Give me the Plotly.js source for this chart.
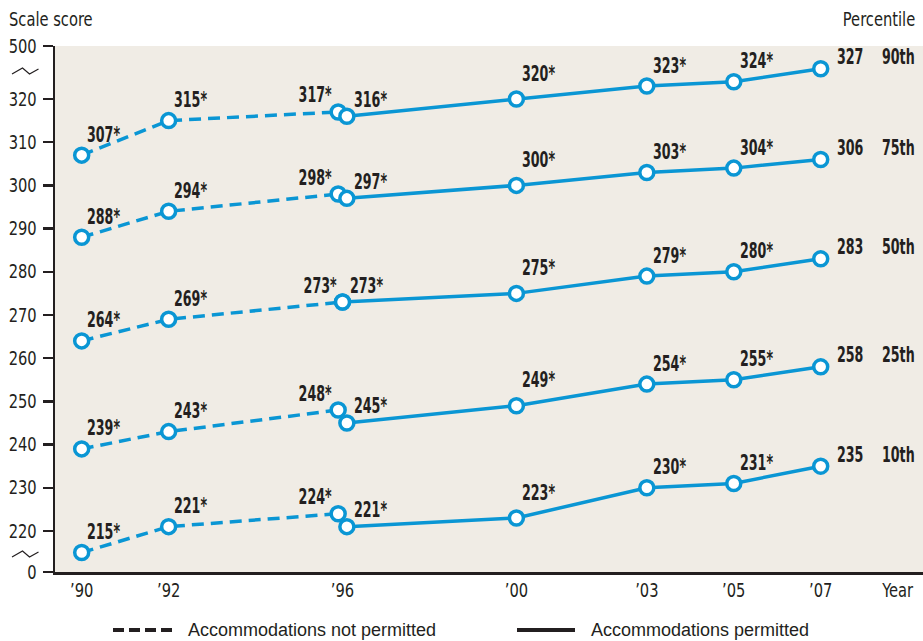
<!DOCTYPE html>
<html>
<head>
<meta charset="utf-8">
<script src="https://cdn.plot.ly/plotly-3.0.1.min.js"></script>
<style>html,body{margin:0;padding:0;background:#fff;}#chart{width:923px;height:641px;}</style>
</head>
<body>
<div id="chart"></div>
<script>
// ---- Data ----
const years = [1990, 1992, 1996, 2000, 2003, 2005, 2007];
const yearTickLabels = ["\u201990", "\u201992", "\u201996", "\u201900", "\u201903", "\u201905", "\u201907"];
const notPermittedYears = [1990, 1992, 1996];
const permittedYears = [1996, 2000, 2003, 2005, 2007];
const percentiles = ["90th", "75th", "50th", "25th", "10th"];

const p90NotPermitted = [307, 315, 317];
const p90Permitted    = [316, 320, 323, 324, 327];
const p75NotPermitted = [288, 294, 298];
const p75Permitted    = [297, 300, 303, 304, 306];
const p50NotPermitted = [264, 269, 273];
const p50Permitted    = [273, 275, 279, 280, 283];
const p25NotPermitted = [239, 243, 248];
const p25Permitted    = [245, 249, 254, 255, 258];
const p10NotPermitted = [215, 221, 224];
const p10Permitted    = [221, 223, 230, 231, 235];

// significantly different from 2007 (*)
const sigNotPermitted = [true, true, true];
const sigPermitted    = [true, true, true, true, false];

const yTickVals  = [220, 230, 240, 250, 260, 270, 280, 290, 300, 310, 320];
const yBreakLow = 0, yBreakHigh = 500;

const notPermittedSeries = [p90NotPermitted, p75NotPermitted, p50NotPermitted, p25NotPermitted, p10NotPermitted];
const permittedSeries    = [p90Permitted, p75Permitted, p50Permitted, p25Permitted, p10Permitted];

// ---- Styling ----
const BLUE = '#0a96d4';
const INK = '#231f20';
const NARROW = '"DejaVu Sans Condensed", "DejaVu Sans", sans-serif';
const W = 923, H = 641;
const M = {l: 55, r: 0, t: 46, b: 69};
const YMIN = 210.5, YMAX = 332.27;
const XMIN = 1989.386, XMAX = 2009.353;
const BOLD_SQUEEZE = 0.64, REG_SQUEEZE = 0.86;
function pxX(px) { return (px - M.l) / (W - M.l - M.r); }
function pxY(py) { return (H - M.b - py) / (H - M.t - M.b); }

const traces = [];
const annotations = [];
const annSqueeze = [];
function label(x, y, text, xanchor, xshift, yshift) {
  annotations.push({x: x, y: y, xref: 'x', yref: 'y', text: text, showarrow: false,
    xanchor: xanchor, yanchor: 'middle', xshift: xshift, yshift: yshift,
    font: {family: NARROW, size: 22, color: INK, weight: 'bold'}});
  annSqueeze.push(BOLD_SQUEEZE);
}

percentiles.forEach((pct, i) => {
  const np = notPermittedSeries[i], p = permittedSeries[i];
  const off = (np[np.length - 1] !== p[0]) ? 0.1 : 0;
  const npX = notPermittedYears.map(y => y === 1996 ? y - off : y);
  const pX = permittedYears.map(y => y === 1996 ? y + off : y);
  const marker = {symbol: 'circle', size: 14, color: '#ffffff', line: {color: BLUE, width: 3.5}};
  traces.push({x: npX, y: np, type: 'scatter', mode: 'lines+markers', name: 'Accommodations not permitted',
    line: {color: BLUE, width: 3.5, dash: '12px,7px'}, marker: marker, cliponaxis: false, hoverinfo: 'skip', showlegend: false});
  traces.push({x: pX, y: p, type: 'scatter', mode: 'lines+markers', name: 'Accommodations permitted',
    line: {color: BLUE, width: 3.5}, marker: marker, cliponaxis: false, hoverinfo: 'skip', showlegend: false});

  np.forEach((v, j) => {
    const t = v + (sigNotPermitted[j] ? '*' : '');
    if (notPermittedYears[j] === 1996) label(npX[j], v, t, 'right', -4, 17);
    else label(npX[j], v, t, 'left', 3, 21);
  });
  p.forEach((v, j) => {
    const t = v + (sigPermitted[j] ? '*' : '');
    const yr = permittedYears[j];
    if (yr === 1996) label(pX[j], v, t, 'left', 5, 17);
    else if (yr === 2007) {
      label(pX[j], v, t, 'left', 14, 12);
      label(pX[j], v, pct, 'left', 59, 12);
    }
    else if (yr === 2000) label(pX[j], v, t, 'left', 4, 26);
    else label(pX[j], v, t, 'left', 4, 21);
  });
});

// axis titles / headers
annotations.push({xref: 'paper', yref: 'paper', x: pxX(7), y: pxY(19), xanchor: 'left', yanchor: 'middle',
  text: 'Scale score', showarrow: false, font: {family: NARROW, size: 19, color: INK}});
annSqueeze.push(REG_SQUEEZE);
annotations.push({xref: 'paper', yref: 'paper', x: pxX(917), y: pxY(19), xanchor: 'right', yanchor: 'middle',
  text: 'Percentile', showarrow: false, font: {family: NARROW, size: 19, color: INK}});
annSqueeze.push(REG_SQUEEZE);

// legend
const LEGEND_FONT = '"Liberation Sans", Arial, sans-serif';
annotations.push({xref: 'paper', yref: 'paper', x: pxX(186), y: pxY(630), xanchor: 'left', yanchor: 'middle',
  text: 'Accommodations not permitted', showarrow: false, font: {family: LEGEND_FONT, size: 18, color: INK}});
annSqueeze.push(1);
annotations.push({xref: 'paper', yref: 'paper', x: pxX(589), y: pxY(630), xanchor: 'left', yanchor: 'middle',
  text: 'Accommodations permitted', showarrow: false, font: {family: LEGEND_FONT, size: 18, color: INK}});
annSqueeze.push(1);

function zig(py) {
  const pts = [[12, py + 3], [22.5, py - 3], [29.5, py + 3], [38.5, py - 2]];
  return 'M' + pts.map(p => pxX(p[0]) + ',' + pxY(p[1])).join(' L');
}
const shapes = [
  {type: 'line', xref: 'paper', yref: 'paper', x0: pxX(113), x1: pxX(172), y0: pxY(630), y1: pxY(630),
   line: {color: INK, width: 4, dash: '11px,5px'}},
  {type: 'line', xref: 'paper', yref: 'paper', x0: pxX(517), x1: pxX(575), y0: pxY(630), y1: pxY(630),
   line: {color: INK, width: 4}},
  {type: 'path', xref: 'paper', yref: 'paper', path: zig(71), line: {color: INK, width: 1.2}},
  {type: 'path', xref: 'paper', yref: 'paper', path: zig(554), line: {color: INK, width: 1.2}}
];

const layout = {
  width: W, height: H,
  margin: M,
  paper_bgcolor: '#ffffff',
  plot_bgcolor: '#f0ece5',
  showlegend: false,
  font: {family: NARROW, color: INK},
  xaxis: {
    range: [XMIN, XMAX], showgrid: false, zeroline: false,
    showline: true, linecolor: INK, linewidth: 2.5,
    ticks: '', tickmode: 'array',
    tickvals: years.concat([2008.77]), ticktext: yearTickLabels.concat(['Year']),
    tickfont: {family: NARROW, size: 19, color: INK}, ticklabelstandoff: 0
  },
  yaxis: {
    range: [YMIN, YMAX], showgrid: false, zeroline: false,
    showline: true, linecolor: INK, linewidth: 2.5,
    ticks: 'outside', ticklen: 10, tickwidth: 2.5, tickcolor: INK,
    tickmode: 'array',
    tickvals: [YMIN].concat(yTickVals, [YMAX]),
    ticktext: [String(yBreakLow)].concat(yTickVals.map(String), [String(yBreakHigh)]),
    tickfont: {family: NARROW, size: 19, color: INK}, ticklabelstandoff: 2
  },
  annotations: annotations,
  shapes: shapes
};

// horizontally condense text about its anchor edge (narrow typeface look)
function squeeze(t, ax, s) {
  const tr = t.getAttribute('transform') || '';
  t.setAttribute('transform', tr + ' translate(' + ax + ',0) scale(' + s + ',1) translate(' + (-ax) + ',0)');
}

Plotly.newPlot('chart', traces, layout, {staticPlot: true, displayModeBar: false}).then(() => {
  document.querySelectorAll('#chart g.annotation').forEach(g => {
    const i = +g.getAttribute('data-index');
    const s = annSqueeze[i];
    const t = g.querySelector('text');
    if (!t || !s || s === 1) return;
    const b = t.getBBox();
    const xa = annotations[i].xanchor;
    const ax = xa === 'left' ? b.x : (xa === 'right' ? b.x + b.width : b.x + b.width / 2);
    squeeze(t, ax, s);
  });
  document.querySelectorAll('#chart .xtick text, #chart .ytick text').forEach(t => {
    const b = t.getBBox();
    const a = t.getAttribute('text-anchor');
    const ax = a === 'end' ? b.x + b.width : (a === 'start' ? b.x : b.x + b.width / 2);
    squeeze(t, ax, REG_SQUEEZE);
  });
});
</script>
</body>
</html>
